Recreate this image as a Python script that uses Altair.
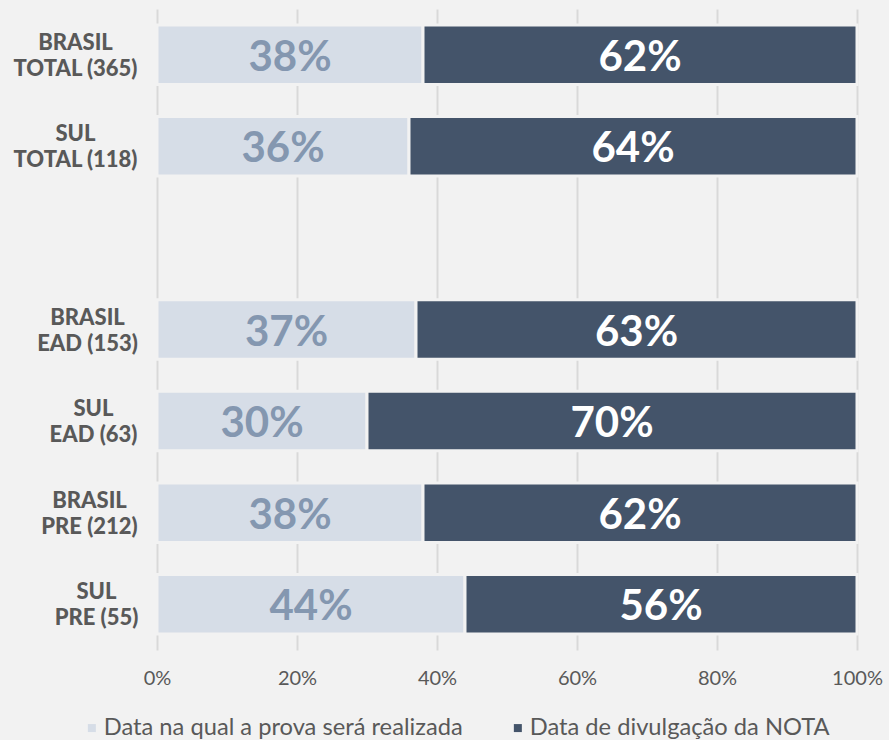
import altair as alt
import pandas as pd

categories = ["BRASIL|TOTAL (365)", "SUL|TOTAL (118)", " ", "BRASIL|EAD (153)",
              "SUL|EAD (63)", "BRASIL|PRE (212)", "SUL|PRE (55)"]
data_cats = ["BRASIL|TOTAL (365)", "SUL|TOTAL (118)", "BRASIL|EAD (153)",
             "SUL|EAD (63)", "BRASIL|PRE (212)", "SUL|PRE (55)"]
series = ["Data na qual a prova será realizada", "Data de divulgação da NOTA"]
light_vals = [38, 36, 37, 30, 38, 44]
dark_vals = [62, 64, 63, 70, 62, 56]
tick_values = [0, 0.2, 0.4, 0.6, 0.8, 1.0]

rows = []
for c, a, b in zip(data_cats, light_vals, dark_vals):
    rows.append({"cat": c, "serie": series[0], "value": a, "ord": 0})
    rows.append({"cat": c, "serie": series[1], "value": b, "ord": 1})
df = pd.DataFrame(rows)

bar_colors = ["#d6dde7", "#44546a"]
text_colors = ["#8497b0", "#ffffff"]

pad_cond = {
    "condition": [
        {"test": "datum.value === 'BRASIL|TOTAL (365)'", "value": 82},
        {"test": "datum.value === 'SUL|TOTAL (118)'", "value": 82},
        {"test": "datum.value === 'BRASIL|EAD (153)'", "value": 70},
        {"test": "datum.value === 'SUL|EAD (63)'", "value": 64},
        {"test": "datum.value === 'BRASIL|PRE (212)'", "value": 68},
    ],
    "value": 61,
}

yscale = alt.Scale(domain=categories, paddingInner=0.35, paddingOuter=0.175)
xscale = alt.Scale(domain=[0, 1], nice=False)

y_enc = alt.Y(
    "cat:N", scale=yscale, title=None,
    axis=alt.Axis(
        domain=False, ticks=False, tickSize=0,
        labelExpr="split(datum.value, '|')",
        labelAlign="center", labelBaseline="middle",
        labelFont="Lato", labelFontWeight=900, labelFontSize=22,
        labelLineHeight=26, labelColor="#595959", labelOffset=-12,
        labelPadding=pad_cond,
    ),
)

bars = alt.Chart(df).mark_bar(stroke="#f2f2f2", strokeWidth=3).encode(
    y=y_enc,
    x=alt.X(
        "value:Q", stack="normalize", scale=xscale, title=None,
        axis=alt.Axis(
            values=tick_values, format=".0%", domain=False, ticks=False,
            grid=True, gridColor="#d9d9d9", gridWidth=2,
            labelFont="Lato", labelFontSize=20, labelColor="#595959",
            labelPadding=18, labelFlush=False,
        ),
    ),
    color=alt.Color(
        "serie:N", scale=alt.Scale(domain=series, range=bar_colors),
        legend=alt.Legend(
            title=None, orient="none", direction="horizontal",
            legendX=-77, legendY=707, symbolType="square", symbolSize=64,
            symbolStrokeWidth=0, labelFont="Lato", labelFontSize=23.7,
            labelColor="#595959", labelOffset=0, columnPadding=43, padding=0,
            labelLimit=0,
        ),
    ),
    order=alt.Order("ord:Q"),
)

texts = alt.Chart(df).transform_window(
    cum="sum(value)", groupby=["cat"], sort=[alt.SortField("ord")], frame=[None, 0]
).transform_calculate(
    mid="(datum.cum - datum.value / 2) / 100",
    lbl="datum.value + '%'",
).mark_text(font="Lato", fontWeight="bold", fontSize=42, baseline="middle",
            align="center", dy=3).encode(
    y=alt.Y("cat:N", scale=yscale),
    x=alt.X("mid:Q", scale=xscale),
    text="lbl:N",
    color=alt.Color("serie:N", scale=alt.Scale(domain=series, range=text_colors), legend=None),
)

chart = alt.layer(bars, texts).resolve_scale(color="independent").properties(
    width=700, height=641,
    autosize=alt.AutoSizeParams(type="none"),
    padding={"left": 157, "top": 9, "right": 32, "bottom": 90},
    background="#f2f2f2",
).configure_view(stroke=None)

chart.save("out.html", embed_options={"renderer": "svg", "actions": False})
